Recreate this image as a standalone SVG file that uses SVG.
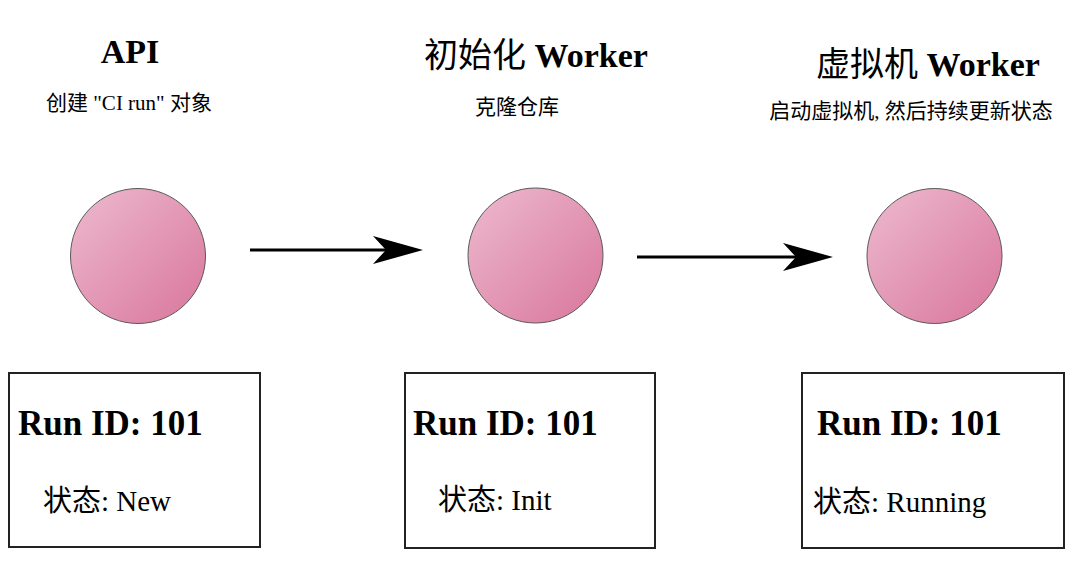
<svg xmlns="http://www.w3.org/2000/svg" width="1080" height="574" viewBox="0 0 1080 574">
<style>
.title{font-family:"Liberation Serif","Noto Sans CJK SC",serif;font-weight:bold;font-size:34px;fill:#000;text-anchor:middle}
.cjk{font-weight:normal}
.sub{font-family:"Liberation Serif","Noto Sans CJK SC",serif;font-size:21px;fill:#000;text-anchor:middle}
.rid{font-family:"Liberation Serif","Noto Sans CJK SC",serif;font-weight:bold;font-size:35px;fill:#000}
.st{font-family:"Liberation Serif","Noto Sans CJK SC",serif;font-size:29px;fill:#000}
.node{fill:url(#pink);stroke:#5a5a5a;stroke-width:1}
.box{fill:#fff;stroke:#222;stroke-width:2}
.conn{stroke:#000;stroke-width:3;fill:none}
</style>
<defs>
<linearGradient id="pink" x1="0" y1="0" x2="1" y2="1">
<stop offset="0" stop-color="#edbace"/>
<stop offset="1" stop-color="#d9769c"/>
</linearGradient>
</defs>
<rect width="1080" height="574" fill="#fff"/>
<g id="api">
<text class="title" x="130" y="63">API</text>
<text class="sub" x="129" y="110">创建 "CI run" 对象</text>
<circle class="node" cx="138" cy="256" r="67.5"/>
<rect class="box" x="9" y="373" width="251" height="174"/>
<text class="rid" x="18" y="435">Run ID: 101</text>
<text class="st" x="43" y="511">状态: New</text>
</g>
<g id="init-worker">
<text class="title" x="536" y="67"><tspan class="cjk">初始化</tspan> Worker</text>
<text class="sub" x="517" y="114">克隆仓库</text>
<circle class="node" cx="535.5" cy="255.5" r="67.5"/>
<rect class="box" x="405" y="373" width="250" height="175"/>
<text class="rid" x="413" y="435">Run ID: 101</text>
<text class="st" x="438" y="510">状态: Init</text>
</g>
<g id="vm-worker">
<text class="title" x="928" y="76"><tspan class="cjk">虚拟机</tspan> Worker</text>
<text class="sub" x="911" y="118">启动虚拟机, 然后持续更新状态</text>
<circle class="node" cx="934.5" cy="256" r="67.5"/>
<rect class="box" x="802" y="373" width="262" height="175"/>
<text class="rid" x="817" y="435">Run ID: 101</text>
<text class="st" x="813" y="512">状态: Running</text>
</g>
<g id="connectors">
<line class="conn" x1="250" y1="250" x2="390" y2="250"/>
<path d="M423 250 L373 236 L386 250 L373 264 Z" fill="#000"/>
<line class="conn" x1="637" y1="257" x2="800" y2="257"/>
<path d="M833 257 L783 243 L796 257 L783 271 Z" fill="#000"/>
</g>
</svg>
